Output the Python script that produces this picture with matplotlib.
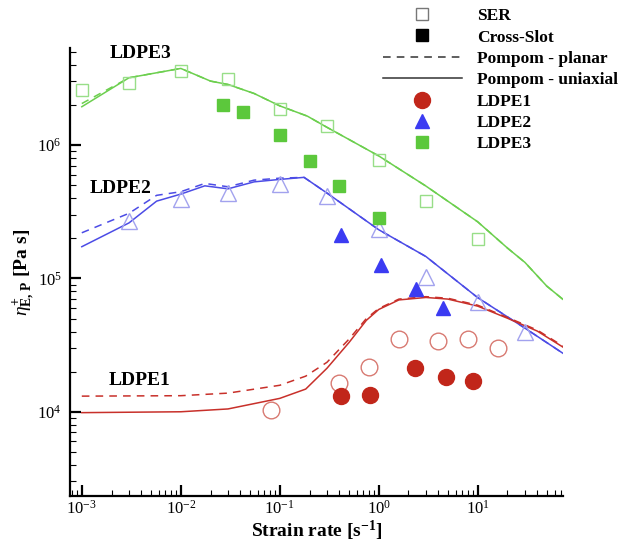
import matplotlib
matplotlib.use("Agg")
import matplotlib.pyplot as plt
from matplotlib.lines import Line2D

plt.rcParams['font.family'] = ['Liberation Serif', 'DejaVu Serif']
plt.rcParams['mathtext.fontset'] = 'custom'
plt.rcParams['mathtext.rm'] = 'Liberation Serif'
plt.rcParams['mathtext.it'] = 'Liberation Serif:italic'
plt.rcParams['mathtext.bf'] = 'Liberation Serif:bold'

# SER (open symbols)
rate_ser3 = [1e-3, 3e-3, 1e-2, 3e-2, 0.1, 0.3, 1, 3, 10]
ser_ldpe3 = [2.59e6, 2.9e6, 3.6e6, 3.13e6, 1.88e6, 1.39e6, 7.7e5, 3.8e5, 1.96e5]
rate_ser2 = [3e-3, 1e-2, 3e-2, 0.1, 0.3, 1, 3, 10, 30]
ser_ldpe2 = [2.7e5, 3.92e5, 4.35e5, 5.1e5, 4.18e5, 2.33e5, 1.02e5, 6.67e4, 3.98e4]
rate_ser1 = [0.081, 0.4, 0.8, 1.6, 4, 8, 16]
ser_ldpe1 = [1.04e4, 1.65e4, 2.17e4, 3.5e4, 3.39e4, 3.5e4, 2.99e4]

# Cross-Slot (filled symbols)
rate_cs3 = [0.027, 0.043, 0.1, 0.2, 0.4, 1.0]
cs_ldpe3 = [2.0e6, 1.76e6, 1.19e6, 7.6e5, 4.9e5, 2.85e5]
rate_cs2 = [0.42, 1.05, 2.4, 4.5]
cs_ldpe2 = [2.11e5, 1.27e5, 8.3e4, 5.96e4]
rate_cs1 = [0.42, 0.82, 2.3, 4.8, 9.0]
cs_ldpe1 = [1.31e4, 1.33e4, 2.13e4, 1.81e4, 1.71e4]

# Pompom model
rate_pp3 = [1e-3, 3e-3, 1e-2, 2e-2, 3e-2, 5.5e-2, 0.1, 0.19, 0.3, 1, 3, 10, 20, 30, 50, 73]
uni3 = [1.94e6, 3.2e6, 3.76e6, 3.02e6, 2.85e6, 2.44e6, 1.97e6, 1.65e6, 1.36e6, 8.3e5,
        4.93e5, 2.66e5, 1.69e5, 1.32e5, 8.75e4, 6.95e4]
planar3 = [2.05e6, 3.2e6, 3.76e6, 3.02e6, 2.85e6, 2.44e6, 1.97e6, 1.65e6, 1.36e6, 8.3e5,
           4.93e5, 2.66e5, 1.69e5, 1.32e5, 8.75e4, 6.95e4]

rate_pp2 = [1e-3, 3e-3, 5.7e-3, 1e-2, 1.75e-2, 3e-2, 5.5e-2, 0.1, 0.176, 0.3, 1, 3, 10, 30, 73]
uni2 = [1.73e5, 2.61e5, 3.8e5, 4.29e5, 4.95e5, 4.7e5, 5.3e5, 5.53e5, 5.73e5, 4.37e5,
        2.32e5, 1.46e5, 7.18e4, 4.24e4, 2.74e4]
planar2 = [2.2e5, 3.08e5, 4.2e5, 4.47e5, 5.16e5, 4.87e5, 5.46e5, 5.65e5, 5.73e5, 4.37e5,
           2.32e5, 1.46e5, 7.18e4, 4.24e4, 2.74e4]

rate_pp1 = [1e-3, 1e-2, 3e-2, 0.1, 0.183, 0.3, 0.5, 0.75, 1, 1.6, 3, 5, 10, 20, 40, 73]
uni1 = [9.85e3, 1.0e4, 1.05e4, 1.26e4, 1.48e4, 2.12e4, 3.3e4, 4.85e4, 5.85e4, 6.9e4,
        7.2e4, 7.0e4, 6.2e4, 5.03e4, 4.03e4, 3.05e4]
planar1 = [1.31e4, 1.32e4, 1.38e4, 1.58e4, 1.85e4, 2.35e4, 3.5e4, 5.0e4, 5.95e4, 7.0e4,
           7.3e4, 7.1e4, 6.3e4, 5.1e4, 4.1e4, 3.1e4]

red, red_l, red_o = '#c1261a', '#c8302a', '#d87a72'
blue, blue_l, blue_o = '#3b3bf2', '#4c4ce6', '#a2a2ee'
green, green_l, green_o = '#5cc83c', '#6ccf4e', '#98de88'
dash = (0, (5, 4))

fig = plt.figure(figsize=(6.3, 5.42), dpi=100)
ax = fig.add_axes([70 / 630, 1 - 496 / 542, 493 / 630, 448 / 542])

# model lines
ax.plot(rate_pp3, planar3, color=green_l, lw=1.1, ls=dash)
ax.plot(rate_pp3, uni3, color=green_l, lw=1.1)
ax.plot(rate_pp2, planar2, color=blue_l, lw=1.1, ls=dash)
ax.plot(rate_pp2, uni2, color=blue_l, lw=1.1)
ax.plot(rate_pp1, planar1, color=red_l, lw=1.1, ls=dash)
ax.plot(rate_pp1, uni1, color=red_l, lw=1.1)

# SER data
ax.plot(rate_ser3, ser_ldpe3, 's', ms=9, mfc='none', mec=green_o, mew=1.0)
ax.plot(rate_ser2, ser_ldpe2, '^', ms=11, mfc='none', mec=blue_o, mew=1.0)
ax.plot(rate_ser1, ser_ldpe1, 'o', ms=12, mfc='none', mec=red_o, mew=1.0)

# Cross-Slot data
ax.plot(rate_cs3, cs_ldpe3, 's', ms=8.5, color=green, mec=green)
ax.plot(rate_cs2, cs_ldpe2, '^', ms=10, color=blue, mec=blue)
ax.plot(rate_cs1, cs_ldpe1, 'o', ms=11.5, color=red, mec=red)

ax.set_xscale('log')
ax.set_yscale('log')
ax.set_xlim(7.6e-4, 72.8)
ax.set_ylim(2335, 5.35e6)

for s in ['top', 'right']:
    ax.spines[s].set_visible(False)
for s in ['left', 'bottom']:
    ax.spines[s].set_linewidth(1.6)
ax.tick_params(which='major', direction='in', length=8, width=1.6, labelsize=12, pad=3)
ax.tick_params(which='minor', direction='in', length=4.5, width=0.8)
ax.tick_params(axis='y', which='major', pad=6)

ax.set_xlabel(r'Strain rate [s$^{\mathbf{-1}}$]', fontsize=14, fontweight='bold', labelpad=0.5)
ax.set_ylabel(r'$\eta_{\mathbf{E,\,P}}^{\mathbf{+}}$ [Pa s]', fontsize=14, fontweight='bold', labelpad=0)

ax.text(3.88e-3, 4.9e6, 'LDPE3', fontsize=14, fontweight='bold', ha='center', va='center')
ax.text(2.44e-3, 4.75e5, 'LDPE2', fontsize=14, fontweight='bold', ha='center', va='center')
ax.text(3.8e-3, 1.73e4, 'LDPE1', fontsize=14, fontweight='bold', ha='center', va='center')

handles = [
    Line2D([], [], ls='none', marker='s', ms=9, mfc='none', mec='#777777', mew=1.0),
    Line2D([], [], ls='none', marker='s', ms=8.5, color='black'),
    Line2D([], [], ls=dash, color='#333333', lw=1.1),
    Line2D([], [], ls='-', color='#333333', lw=1.1),
    Line2D([], [], ls='none', marker='o', ms=11.5, color=red),
    Line2D([], [], ls='none', marker='^', ms=10, color=blue),
    Line2D([], [], ls='none', marker='s', ms=8.5, color=green),
]
labels = ['SER', 'Cross-Slot', 'Pompom - planar', 'Pompom - uniaxial', 'LDPE1', 'LDPE2', 'LDPE3']
fig.legend(handles, labels, loc='upper left', bbox_to_anchor=(383 / 630, 1 - 8 / 542),
           frameon=False, prop={'weight': 'bold', 'size': 12.5}, handlelength=4.55,
           handletextpad=0.85, labelspacing=0.3, borderaxespad=0, borderpad=0)

fig.savefig('out.png', dpi=100)
